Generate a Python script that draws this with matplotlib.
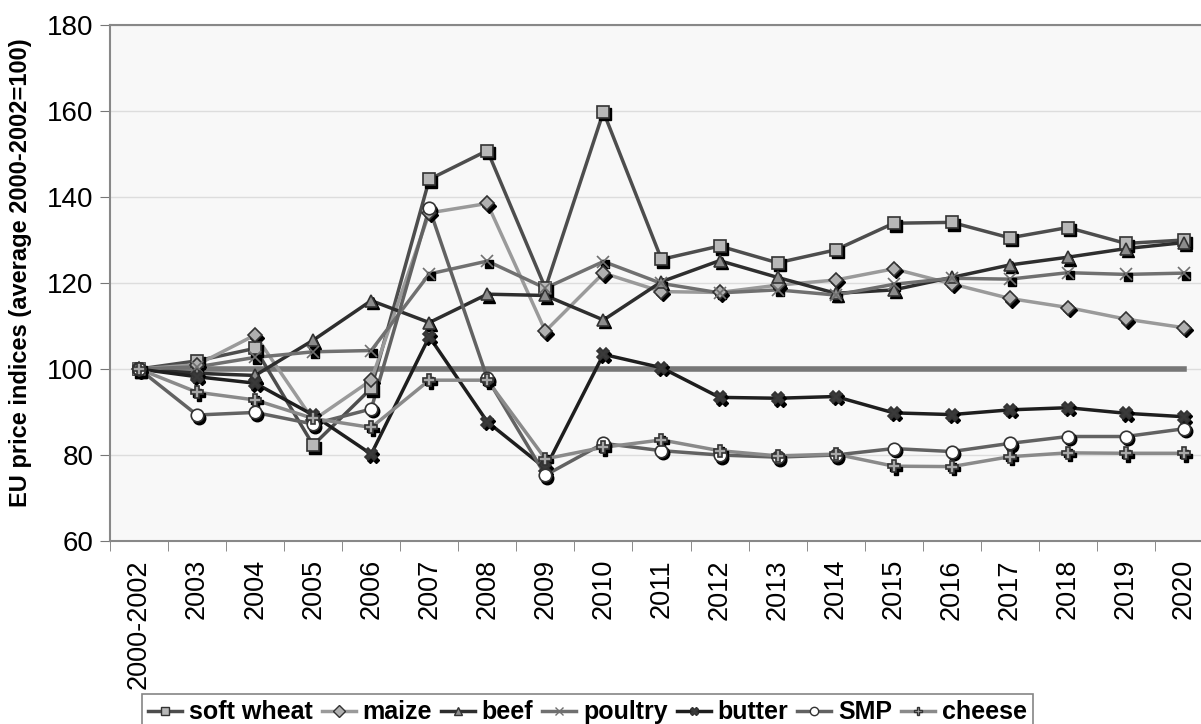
import matplotlib
matplotlib.use("Agg")
import matplotlib.pyplot as plt
from matplotlib.transforms import offset_copy

plt.rcParams["font.family"] = ["Liberation Sans", "DejaVu Sans"]

# categories on the x axis
years = ["2000-2002"] + [str(y) for y in range(2003, 2021)]

# price indices
soft_wheat = [100, 101.9, 104.8, 82.3, 95.5, 144.1, 150.8, 118.8, 159.8, 125.5,
              128.6, 124.7, 127.7, 133.9, 134.1, 130.5, 132.9, 129.2, 130.0]
maize = [100, 101.0, 107.9, 88.1, 97.4, 136.3, 138.5, 108.8, 122.3, 118.0,
         117.8, 119.5, 120.7, 123.3, 119.8, 116.4, 114.3, 111.6, 109.6]
beef = [100, 99.0, 98.5, 106.7, 115.9, 110.8, 117.4, 117.1, 111.4, 120.3,
        125.2, 121.3, 117.6, 118.4, 121.3, 124.2, 126.0, 128.0, 129.4]
poultry = [100, 100.5, 102.7, 104.0, 104.3, 122.1, 125.1, 118.8, 125.0, 119.9,
           117.7, 118.4, 117.2, 119.7, 121.1, 120.9, 122.4, 122.0, 122.3]
butter = [100, 98.2, 96.7, 89.3, 80.2, 107.5, 87.7, 76.9, 103.4, 100.3,
          93.4, 93.2, 93.6, 89.8, 89.4, 90.5, 91.0, 89.7, 88.9]
smp = [100, 89.3, 89.9, 87.2, 90.7, 137.4, 97.8, 75.3, 82.7, 81.0,
       80.0, 79.5, 80.0, 81.5, 80.8, 82.7, 84.3, 84.3, 86.1]
cheese = [100, 94.6, 92.8, 88.5, 86.4, 97.4, 97.4, 79.1, 81.8, 83.5,
          81.0, 79.8, 80.2, 77.4, 77.3, 79.6, 80.5, 80.4, 80.4]
baseline = [100] * len(years)

series = [
    ("soft wheat", soft_wheat, "#4d4d4d", "s", "#b8b8b8", 9),
    ("maize", maize, "#9a9a9a", "D", "#b0b0b0", 7),
    ("beef", beef, "#2e2e2e", "^", "#8c8c8c", 9),
    ("poultry", poultry, "#707070", "x", "#707070", 9),
    ("butter", butter, "#1e1e1e", "X", "#3a3a3a", 9),
    ("SMP", smp, "#626262", "o", "white", 9),
    ("cheese", cheese, "#8a8a8a", "P", "#a8a8a8", 9),
]

fig = plt.figure(figsize=(12.01, 7.24), dpi=100)
ax = fig.add_axes([110 / 1201, 1 - 541 / 724, 1103 / 1201, 516 / 724])
ax.set_facecolor("#f8f8f8")

x = list(range(len(years)))

# reference line at 100
ax.plot(x, baseline, color="#777777", lw=4, zorder=2)

shadow = offset_copy(ax.transData, fig=fig, x=2, y=-2.5, units="dots")
for name, vals, col, mk, face, ms in series:
    ax.plot(x, vals, color=col, lw=2.5, zorder=3)
    # black drop shadow under each marker
    if mk == "x":
        ax.plot(x, vals, ls="none", marker="s", ms=6, color="black",
                transform=shadow, zorder=3.5)
    else:
        ax.plot(x, vals, ls="none", marker=mk, ms=ms, color="black",
                transform=shadow, zorder=3.5)
    ax.plot(x, vals, ls="none", marker=mk, ms=ms, mfc=face,
            mec="#333333" if mk != "x" else col, mew=1.2, zorder=4)

# legend handles: line with marker
handles = []
for name, vals, col, mk, face, ms in series:
    h, = ax.plot([], [], color=col, lw=2.5, marker=mk, ms=6, mfc=face,
                 mec="#333333" if mk != "x" else col, mew=1)
    handles.append(h)

ax.set_xlim(-0.5, len(years) - 0.5)
ax.set_ylim(60, 180)
ax.set_yticks(range(60, 181, 20))
ax.set_xticks(x)
ax.set_xticklabels(years, rotation=90)
ax.set_xticks([i + 0.5 for i in range(-1, len(years))], minor=True)
ax.tick_params(axis="x", which="major", length=0, labelsize=19.5, pad=13)
ax.tick_params(axis="x", which="minor", length=7, color="#777777")
ax.tick_params(axis="y", length=7, color="#777777", labelsize=20, pad=5)
ax.grid(axis="y", color="#dddddd", lw=1)
ax.set_axisbelow(True)
for s in ax.spines.values():
    s.set_color("#888888")
    s.set_linewidth(1.5)

ax.set_ylabel("EU price indices (average 2000-2002=100)", fontsize=17,
              fontweight="bold")
ax.yaxis.set_label_coords(-0.071, 0.52)

leg = fig.legend(handles, [s[0] for s in series], loc="upper left",
                 bbox_to_anchor=(142 / 1201, 1 - 694 / 724), ncol=7,
                 frameon=True, fancybox=False, edgecolor="#666666",
                 prop={"weight": "bold", "size": 18}, handlelength=1.35,
                 handletextpad=0.28, columnspacing=0.36, borderpad=0.25,
                 borderaxespad=0)
leg.get_frame().set_linewidth(1.2)

fig.savefig("out.png", dpi=100)
